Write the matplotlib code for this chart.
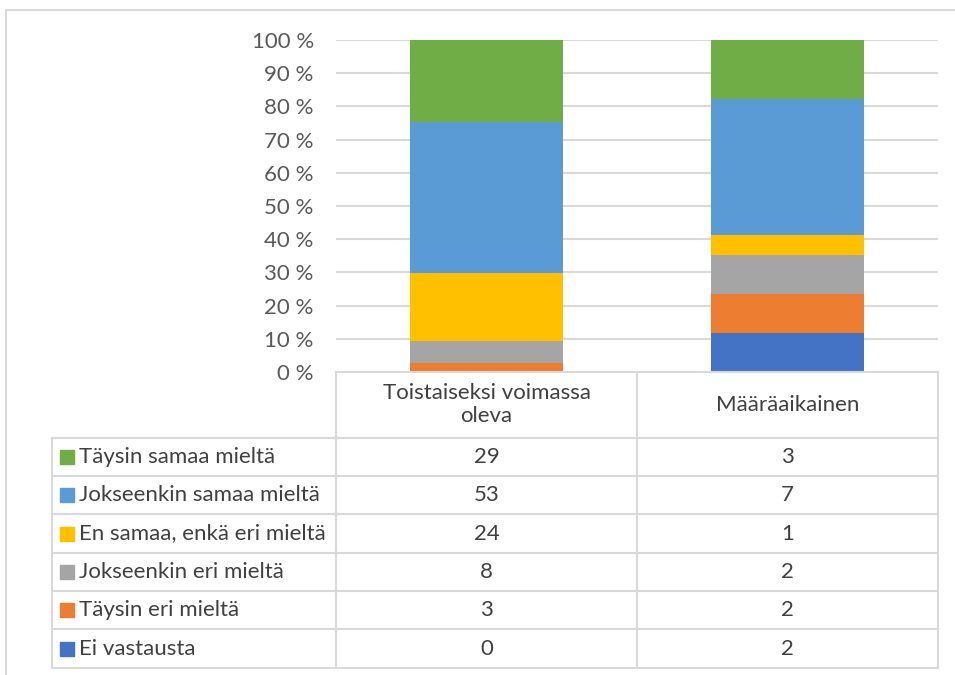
import matplotlib.pyplot as plt
import numpy as np

# data (counts), order from bottom of stack to top
categories = ["Toistaiseksi voimassa\noleva", "Määräaikainen"]
series = ["Ei vastausta", "Täysin eri mieltä", "Jokseenkin eri mieltä",
          "En samaa, enkä eri mieltä", "Jokseenkin samaa mieltä", "Täysin samaa mieltä"]
counts_toist = [0, 3, 8, 24, 53, 29]
counts_maara = [2, 2, 2, 1, 7, 3]
colors = ["#4472C4", "#ED7D31", "#A5A5A5", "#FFC000", "#5B9BD5", "#70AD47"]
yticks = [0, 10, 20, 30, 40, 50, 60, 70, 80, 90, 100]

plt.rcParams['font.family'] = ['Lato', 'DejaVu Sans']
W, H = 955, 675
fig = plt.figure(figsize=(W / 100, H / 100), dpi=100)

# plot area in pixels
x0, x1 = 336, 938
y_top, y_bot = 40, 372
ax = fig.add_axes([x0 / W, 1 - y_bot / H, (x1 - x0) / W, (y_bot - y_top) / H])

data = np.array([counts_toist, counts_maara], dtype=float).T
pct = data / data.sum(axis=0) * 100
xpos = np.arange(len(categories))
bottom = np.zeros(len(categories))
for i in range(len(series)):
    ax.bar(xpos, pct[i], 0.51, bottom=bottom, color=colors[i], zorder=2)
    bottom += pct[i]

ax.set_xlim(-0.5, len(categories) - 0.5)
ax.set_ylim(0, 100)
ax.set_yticks(yticks)
ax.set_yticklabels([f"{t} %" for t in yticks])
ax.tick_params(axis='y', length=0, pad=16, labelsize=16, labelcolor="#595959")
ax.set_xticks([])
ax.grid(axis='y', color="#D9D9D9", linewidth=1.5, zorder=0)
for s in ax.spines.values():
    s.set_visible(False)

# overlay in pixel coordinates for table and border
ov = fig.add_axes([0, 0, 1, 1], zorder=5)
ov.set_xlim(0, W)
ov.set_ylim(H, 0)
ov.axis('off')
ov.patch.set_alpha(0)

lc = "#D9D9D9"
tc = "#404040"
fs = 16
ov.plot([6, 6, W], [H, 10, 10], color=lc, lw=1.5)

tx0 = 52
col_mid = 637
head_top, head_bot = 372, 437.7
row_h = 38.33
n = len(series)
tab_bot = head_bot + n * row_h

for k in range(n + 1):
    y = head_bot + k * row_h
    ov.plot([tx0, x1], [y, y], color=lc, lw=1.5)
ov.plot([x0, x1], [head_top, head_top], color=lc, lw=1.5)
ov.plot([tx0, tx0], [head_bot, tab_bot], color=lc, lw=1.5)
for x in [x0, col_mid, x1]:
    ov.plot([x, x], [head_top, tab_bot], color=lc, lw=1.5)

centers = [(x0 + col_mid) / 2, (col_mid + x1) / 2]
for j, cat in enumerate(categories):
    ov.text(centers[j], (head_top + head_bot) / 2, cat, ha='center', va='center',
            fontsize=fs, color=tc, linespacing=1.2)

# rows top to bottom: reverse of stacking order
for k, i in enumerate(range(n - 1, -1, -1)):
    yc = head_bot + (k + 0.5) * row_h
    ov.add_patch(plt.Rectangle((60, yc - 7), 14, 14, color=colors[i]))
    ov.text(79, yc, series[i], ha='left', va='center', fontsize=fs, color=tc)
    ov.text(centers[0], yc, str(counts_toist[i]), ha='center', va='center',
            fontsize=fs, color=tc)
    ov.text(centers[1], yc, str(counts_maara[i]), ha='center', va='center',
            fontsize=fs, color=tc)

fig.savefig("out.png", dpi=100)
